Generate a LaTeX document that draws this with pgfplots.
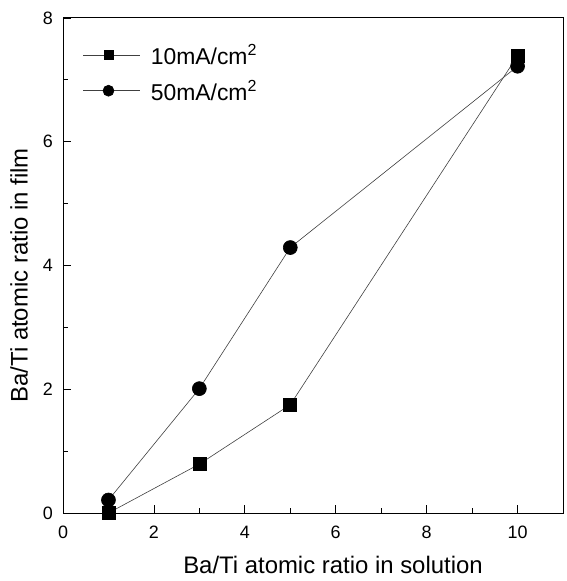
\documentclass[border=0pt]{standalone}
\usepackage{fontspec}
\setmainfont{Liberation Sans}
\usepackage{pgfplots}
\pgfplotsset{compat=1.18}

\begin{document}
\begin{tikzpicture}
\begin{axis}[
  scale only axis,
  width=500bp, height=495bp,
  xmin=0, xmax=11, ymin=0, ymax=8,
  xtick={0,2,...,10}, ytick={0,2,...,8},
  minor x tick num=1, minor y tick num=1,
  xtick pos=left, ytick pos=left,
  tick align=inside,
  major tick length=8bp, minor tick length=5bp,
  every tick/.style={black, line width=0.8bp},
  axis line style={line width=1bp},
  /pgf/number format/assume math mode=true,
  tick label style={font=\fontsize{18}{21}\selectfont, inner sep=0pt},
  xticklabel style={anchor=center, yshift=-19.5bp},
  yticklabel style={anchor=east, xshift=-10bp},
  label style={font=\fontsize{24}{28}\selectfont},
  xlabel={Ba/Ti atomic ratio in solution},
  ylabel={Ba/Ti atomic ratio in film},
  xlabel style={at={(axis description cs:0.54,-0.123)}, anchor=base},
  ylabel style={at={(axis description cs:-0.088,0.48)}, anchor=center},
  legend style={draw=none, fill=none, at={(axis description cs:0,1)},
    anchor=north west, xshift=17bp, yshift=-24bp,
    font=\fontsize{23}{27}\selectfont, row sep=14bp, column sep=10bp,
    nodes={inner sep=0pt}},
  legend cell align=left,
  legend image code/.code={
    \draw[#1, mark repeat=2, mark phase=2] plot coordinates {(0bp,0bp) (25bp,0bp) (57bp,0bp)};
  },
]
\addplot[black!75, line width=0.6bp, mark=square*, mark size=6.5bp,
  mark options={fill=black, draw=black},
  legend image post style={mark size=4.5bp}]
  coordinates {(1,0.0) (3,0.79) (5,1.75) (10,7.39)};
\addlegendentry{10mA/cm\textsuperscript{2}}
\addplot[black!75, line width=0.6bp, mark=*, mark size=7bp,
  mark options={fill=black, draw=black},
  legend image post style={mark size=5.5bp}]
  coordinates {(1,0.21) (3,2.01) (5,4.29) (10,7.22)};
\addlegendentry{50mA/cm\textsuperscript{2}}
\end{axis}
\path ([shift={(-63bp,-68bp)}]current axis.south west)
  rectangle ([shift={(3bp,18bp)}]current axis.north east);
\end{tikzpicture}
\end{document}
